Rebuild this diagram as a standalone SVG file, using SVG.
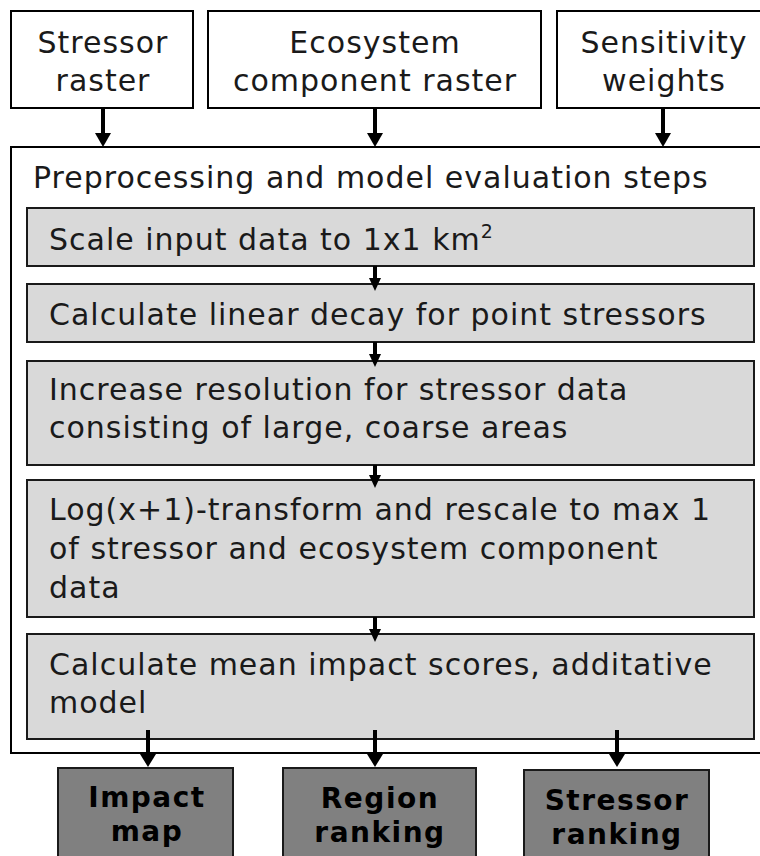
<svg xmlns="http://www.w3.org/2000/svg" width="760" height="856" viewBox="0 0 760 856">
<style>
.box{fill:#ffffff;stroke:#000;stroke-width:2}
.step{fill:#d9d9d9;stroke:#1a1a1a;stroke-width:2}
.out{fill:#808080;stroke:#1a1a1a;stroke-width:2}
text{font-family:"DejaVu Sans",Verdana,sans-serif;font-size:30px;fill:#1a1a1a;letter-spacing:1px}
.c{text-anchor:middle}
.b{font-weight:bold;fill:#000;font-size:28px;letter-spacing:1.5px}
.arr{stroke:#000;stroke-width:4;fill:none}
.hd{fill:#000}
</style>
<rect width="760" height="856" fill="#fff"/>
<g id="stressor-raster">
<rect class="box" x="11" y="11" width="182" height="97"/>
<text class="c" x="103" y="53">Stressor</text>
<text class="c" x="103" y="91">raster</text>
</g>
<g id="ecosystem-raster">
<rect class="box" x="208" y="11" width="333" height="97"/>
<text class="c" x="375" y="53">Ecosystem</text>
<text class="c" x="375" y="91">component raster</text>
</g>
<g id="sensitivity-weights">
<rect class="box" x="557" y="11" width="215" height="97"/>
<text class="c" x="664" y="53">Sensitivity</text>
<text class="c" x="664" y="91">weights</text>
</g>
<g id="preprocessing">
<rect class="box" x="11" y="147" width="761" height="606"/>
<text x="33" y="188">Preprocessing and model evaluation steps</text>
</g>
<g id="step1">
<rect class="step" x="27" y="208" width="727" height="58"/>
<text x="49" y="250">Scale input data to 1x1 km<tspan font-size="19" dy="-12">2</tspan></text>
</g>
<g id="step2">
<rect class="step" x="27" y="284" width="727" height="58"/>
<text x="49" y="325">Calculate linear decay for point stressors</text>
</g>
<g id="step3">
<rect class="step" x="27" y="361" width="727" height="104"/>
<text x="49" y="400">Increase resolution for stressor data</text>
<text x="49" y="438">consisting of large, coarse areas</text>
</g>
<g id="step4">
<rect class="step" x="27" y="480" width="727" height="137"/>
<text x="49" y="520">Log(x+1)-transform and rescale to max 1</text>
<text x="49" y="559">of stressor and ecosystem component</text>
<text x="49" y="598">data</text>
</g>
<g id="step5">
<rect class="step" x="27" y="634" width="727" height="105"/>
<text x="49" y="675">Calculate mean impact scores, additative</text>
<text x="49" y="713">model</text>
</g>
<g id="impact-map">
<rect class="out" x="58" y="768" width="175" height="100"/>
<text class="c b" x="147" y="807">Impact</text>
<text class="c b" x="147" y="841">map</text>
</g>
<g id="region-ranking">
<rect class="out" x="283" y="768" width="193" height="100"/>
<text class="c b" x="380" y="808">Region</text>
<text class="c b" x="380" y="842">ranking</text>
</g>
<g id="stressor-ranking">
<rect class="out" x="524" y="770" width="185" height="100"/>
<text class="c b" x="617" y="810">Stressor</text>
<text class="c b" x="617" y="844">ranking</text>
</g>
<g id="connectors">
<line class="arr" x1="103" y1="108" x2="103" y2="135"/><path class="hd" d="M95,133 L111,133 L103,147 Z"/>
<line class="arr" x1="375" y1="108" x2="375" y2="135"/><path class="hd" d="M367,133 L383,133 L375,147 Z"/>
<line class="arr" x1="663" y1="108" x2="663" y2="135"/><path class="hd" d="M655,133 L671,133 L663,147 Z"/>
<line class="arr" x1="375" y1="266" x2="375" y2="279"/><path class="hd" d="M369,278 L381,278 L375,291 Z"/>
<line class="arr" x1="375" y1="342" x2="375" y2="355"/><path class="hd" d="M369,354 L381,354 L375,367 Z"/>
<line class="arr" x1="375" y1="465" x2="375" y2="476"/><path class="hd" d="M369,475 L381,475 L375,488 Z"/>
<line class="arr" x1="375" y1="617" x2="375" y2="630"/><path class="hd" d="M369,629 L381,629 L375,642 Z"/>
<line class="arr" x1="148" y1="730" x2="148" y2="756"/><path class="hd" d="M140,754 L156,754 L148,767 Z"/>
<line class="arr" x1="375" y1="730" x2="375" y2="756"/><path class="hd" d="M367,754 L383,754 L375,767 Z"/>
<line class="arr" x1="617" y1="730" x2="617" y2="756"/><path class="hd" d="M609,754 L625,754 L617,767 Z"/>
</g>
</svg>
